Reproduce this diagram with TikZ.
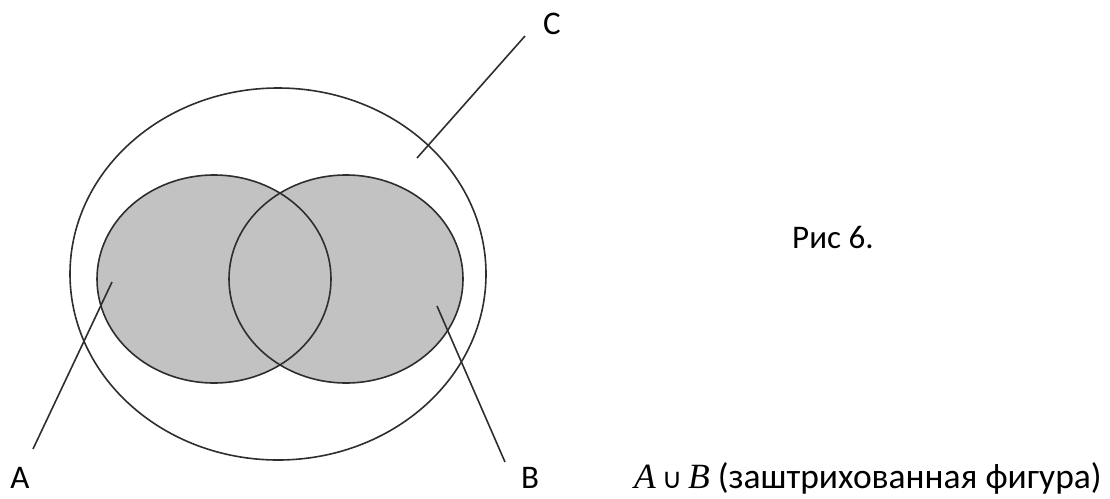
\documentclass[tikz,border=0pt]{standalone}
\usepackage{fontspec}
\setmainfont{Carlito}
\newfontfamily\serifit{Liberation Serif}
\newfontfamily\symfont{DejaVu Sans}
\usetikzlibrary{shapes.geometric}
\begin{document}
\begin{tikzpicture}[x=1pt,y=-1pt,
  setline/.style={line width=1.6pt, draw=black!82},
  setfill/.style={fill=black!24},
  lbl/.style={font=\fontsize{33}{40}\selectfont, inner sep=0pt, anchor=base}]
\path[use as bounding box] (0,0) rectangle (1110,498);
% filled sets
\node[ellipse, setfill, minimum width=234, minimum height=208, inner sep=0pt] (A) at (214,279) {};
\node[ellipse, setfill, minimum width=234, minimum height=208, inner sep=0pt] (B) at (346,279) {};
\draw[setline] (A.center) ellipse [x radius=117, y radius=104];
\draw[setline] (B.center) ellipse [x radius=117, y radius=104];
\node[ellipse, setline, minimum width=416, minimum height=372, inner sep=0pt] (C) at (278,274) {};
% labels
\node[lbl] (labA) at (20,488) {A};
\node[lbl] (labB) at (530,488) {B};
\node[lbl] (labC) at (552,34) {C};
\node[lbl, anchor=base west] (fig) at (792,248) {Рис 6.};
\node[lbl, anchor=base west, font=\fontsize{35.5}{42}\selectfont] (cap) at (634,488)
  {{\serifit\itshape A}\,{\symfont\fontsize{28}{30}\selectfont ∪}\,{\serifit\itshape B} (заштрихованная фигура)};
% leader lines
\coordinate (a1) at (112,282);
\coordinate (a2) at (33,449);
\coordinate (b1) at (437,306);
\coordinate (b2) at (505,462);
\coordinate (c1) at (417,158);
\coordinate (c2) at (525,36);
\draw[setline] (a1) -- (a2);
\draw[setline] (b1) -- (b2);
\draw[setline] (c1) -- (c2);
\end{tikzpicture}
\end{document}
